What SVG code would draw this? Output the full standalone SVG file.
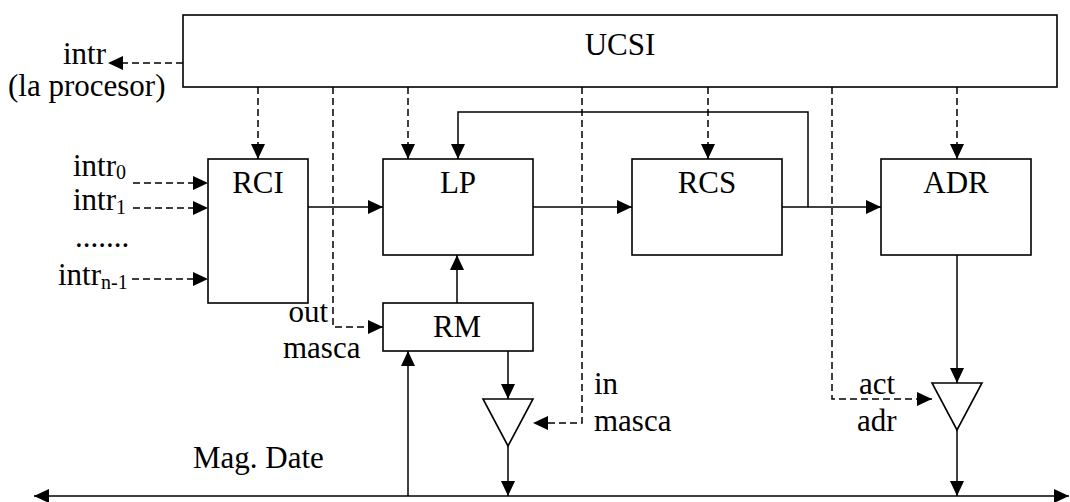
<svg xmlns="http://www.w3.org/2000/svg" width="1070" height="502" viewBox="0 0 1070 502">
<style>
text{font-family:"Liberation Serif","Times New Roman",serif;font-size:31px;fill:#000}
.sub{font-size:20px}
.box{fill:#fff;stroke:#000;stroke-width:1.6}
.ln{fill:none;stroke:#000;stroke-width:1.5}
.ds{fill:none;stroke:#000;stroke-width:1.5;stroke-dasharray:7,4}
</style>
<defs>
<marker id="ah" markerUnits="userSpaceOnUse" markerWidth="16" markerHeight="15" refX="15" refY="7" orient="auto">
<path d="M0,0 L15,7 L0,14 z" fill="#000" stroke="none"/>
</marker>
<marker id="ahs" markerUnits="userSpaceOnUse" markerWidth="16" markerHeight="15" refX="0" refY="7" orient="auto">
<path d="M15,0 L0,7 L15,14 z" fill="#000" stroke="none"/>
</marker>
</defs>
<rect width="1070" height="502" fill="#fff"/>
<g id="connectors">
<path class="ds" d="M183,63 H108" marker-end="url(#ah)"/>
<path class="ds" d="M258,87 V159" marker-end="url(#ah)"/>
<path class="ds" d="M333,87 V327 H383" marker-end="url(#ah)"/>
<path class="ds" d="M408,87 V159" marker-end="url(#ah)"/>
<path class="ds" d="M582,87 V423 H533" marker-end="url(#ah)"/>
<path class="ds" d="M708,87 V159" marker-end="url(#ah)"/>
<path class="ds" d="M832,87 V399 H932" marker-end="url(#ah)"/>
<path class="ds" d="M957,87 V159" marker-end="url(#ah)"/>
<path class="ds" d="M133,183 H208" marker-end="url(#ah)"/>
<path class="ds" d="M133,208 H208" marker-end="url(#ah)"/>
<path class="ds" d="M132,279 H208" marker-end="url(#ah)"/>
<path class="ln" d="M308,207 H383" marker-end="url(#ah)"/>
<path class="ln" d="M533,207 H632" marker-end="url(#ah)"/>
<path class="ln" d="M782,207 H881" marker-end="url(#ah)"/>
<path class="ln" d="M808,207 V112 H458 V159" marker-end="url(#ah)"/>
<path class="ln" d="M457,303 V255" marker-end="url(#ah)"/>
<path class="ln" d="M408,496 V351" marker-end="url(#ah)"/>
<path class="ln" d="M508,351 V399" marker-end="url(#ah)"/>
<path class="ln" d="M508,446 V496" marker-end="url(#ah)"/>
<path class="ln" d="M957,255 V383" marker-end="url(#ah)"/>
<path class="ln" d="M957,430 V496" marker-end="url(#ah)"/>
<path class="ln" d="M34,496 H1069" marker-start="url(#ahs)" marker-end="url(#ah)"/>
</g>
<g id="UCSI">
<rect class="box" x="183" y="15" width="874" height="72"/>
<text x="620" y="55" text-anchor="middle">UCSI</text>
</g>
<g id="RCI">
<rect class="box" x="208" y="159" width="100" height="144"/>
<text x="258" y="193" text-anchor="middle">RCI</text>
</g>
<g id="LP">
<rect class="box" x="383" y="159" width="150" height="96"/>
<text x="458" y="193" text-anchor="middle">LP</text>
</g>
<g id="RCS">
<rect class="box" x="632" y="159" width="150" height="96"/>
<text x="707" y="193" text-anchor="middle">RCS</text>
</g>
<g id="ADR">
<rect class="box" x="881" y="159" width="150" height="96"/>
<text x="956" y="193" text-anchor="middle">ADR</text>
</g>
<g id="RM">
<rect class="box" x="383" y="303" width="150" height="48"/>
<text x="457" y="337" text-anchor="middle">RM</text>
</g>
<g id="buf1">
<polygon class="box" points="483,399 533,399 508,446"/>
</g>
<g id="buf2">
<polygon class="box" points="932,383 982,383 957,430"/>
</g>
<g id="labels">
<text x="106" y="64" text-anchor="end">intr</text>
<text x="8" y="96">(la procesor)</text>
<text x="73" y="176">intr<tspan class="sub" dy="3">0</tspan></text>
<text x="73" y="210">intr<tspan class="sub" dy="4">1</tspan></text>
<text x="75" y="247">.......</text>
<text x="58" y="285">intr<tspan class="sub" dy="4">n-1</tspan></text>
<text x="328" y="322" text-anchor="end">out</text>
<text x="283" y="358">masca</text>
<text x="594" y="394">in</text>
<text x="594" y="431">masca</text>
<text x="859" y="394">act</text>
<text x="857" y="431">adr</text>
<text x="193" y="468">Mag. Date</text>
</g>
</svg>
